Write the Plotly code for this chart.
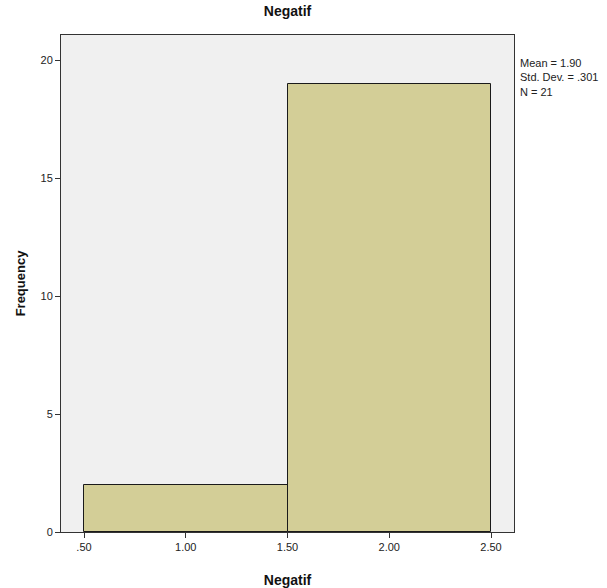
import plotly.graph_objects as go

bin_left = [0.5, 1.5]
bin_right = [1.5, 2.5]
freq = [2, 19]
x_tickvals = [0.5, 1.0, 1.5, 2.0, 2.5]
x_ticktext = [".50", "1.00", "1.50", "2.00", "2.50"]
y_tickvals = [0, 5, 10, 15, 20]
stats_text = "Mean = 1.90<br>Std. Dev. = .301<br>N = 21"

centers = [(a + b) / 2 for a, b in zip(bin_left, bin_right)]
widths = [b - a for a, b in zip(bin_left, bin_right)]

fig = go.Figure(go.Bar(
    x=centers, y=freq, width=widths,
    marker=dict(color="#D3CE97", line=dict(color="#1a1a1a", width=1)),
    showlegend=False, hoverinfo="skip",
))

W, H = 607, 588
L, R, T, B = 61, 93, 35, 56
plot_h = H - T - B

fig.update_layout(
    width=W, height=H,
    margin=dict(l=L, r=R, t=T, b=B, autoexpand=False),
    paper_bgcolor="white", plot_bgcolor="#F0F0F0",
    font=dict(family="Arial, Liberation Sans, sans-serif", size=11, color="#222"),
    title=dict(text="<b>Negatif</b>", x=(L + (W - L - R) / 2) / W, xanchor="center",
               y=1 - 11 / H, yanchor="middle", font=dict(size=14, color="#111")),
    xaxis=dict(range=[0.387, 2.613], tickvals=x_tickvals, ticktext=x_ticktext,
               ticks="outside", ticklen=5, tickcolor="#333", showgrid=False, zeroline=False,
               showline=True, linecolor="#333", linewidth=1, mirror=True, automargin=False,
               title=dict(text="<b>Negatif</b>", font=dict(size=14, color="#111"), standoff=22)),
    yaxis=dict(range=[0, 21.06], tickvals=y_tickvals,
               ticks="outside", ticklen=5, tickcolor="#333", showgrid=False, zeroline=False,
               showline=True, linecolor="#333", linewidth=1, mirror=True, automargin=False,
               title=dict(text="<b>Frequency</b>", font=dict(size=13, color="#111"), standoff=11)),
    bargap=0,
)

fig.add_annotation(text=stats_text, xref="paper", yref="paper", x=1.008, y=1 - 20 / plot_h,
                   xanchor="left", yanchor="top", align="left", showarrow=False,
                   font=dict(size=11, color="#222"))

# remove the default 8px page margin so the figure fills the window exactly
fig.write_html("out.html", config={"displayModeBar": False},
               post_script="document.body.style.margin='0';")
